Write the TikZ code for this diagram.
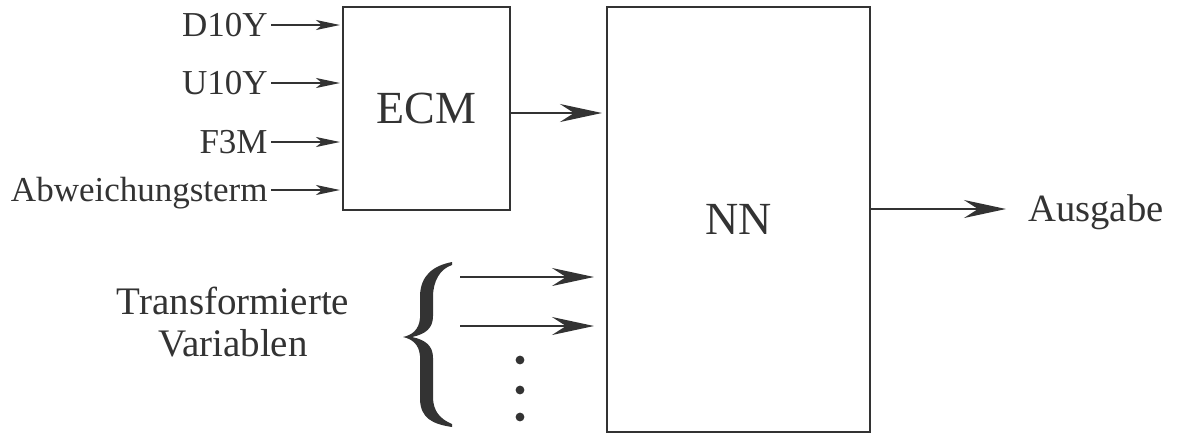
\documentclass[tikz,border=0pt]{standalone}
\usepackage{fontspec}
\setmainfont{Liberation Serif}
\usetikzlibrary{arrows.meta}
\definecolor{ink}{HTML}{333333}
\begin{document}
\begin{tikzpicture}[x=0.5pt,y=-0.5pt,
  box/.style={draw=ink, line width=1pt, inner sep=0pt, text=ink},
  lbl/.style={text=ink, font=\fontsize{17.5}{20}\selectfont, inner sep=1.5pt, text height=11.6pt, text depth=0pt},
  smallarrow/.style={draw=ink, line width=0.9pt, -{Stealth[length=12pt,width=5pt,inset=3pt]}},
  bigarrow/.style={draw=ink, line width=0.9pt, -{Stealth[length=21pt,width=9pt,inset=7pt]}},
  dotmark/.style={fill=ink, draw=none}]
\useasboundingbox (0,0) rectangle (1179,435);
% boxes
\node[box, minimum width=83.5pt, minimum height=101.5pt, font=\fontsize{23}{26}\selectfont] (ecm) at (426.5,108.5) {ECM};
\node[box, minimum width=131.5pt, minimum height=212.5pt, font=\fontsize{23}{26}\selectfont] (nn) at (738.5,219.5) {NN};
% input labels
\node[lbl, anchor=east] (d10y) at (271,25) {D10Y};
\node[lbl, anchor=east] (u10y) at (271,83) {U10Y};
\node[lbl, anchor=east] (f3m) at (271,142) {F3M};
\node[lbl, anchor=east] (abw) at (271,190) {Abweichungsterm};
\foreach \n in {d10y,u10y,f3m,abw}
  \draw[smallarrow, shorten >=1pt] (\n.east) -- (\n.east -| ecm.west);
% ECM -> NN
\coordinate (eo) at (510,113);
\draw[bigarrow, shorten >=2pt] (eo) -- (eo -| nn.west);
% output
\node[text=ink, font=\fontsize{19.3}{22}\selectfont, anchor=west, inner sep=1pt, text height=12.8pt, text depth=0pt] (aus) at (1026,209) {Ausgabe};
\draw[bigarrow, shorten >=10pt] (nn.east |- aus.west) -- (aus.west);
% transformed variables
\node[text=ink, font=\fontsize{19.5}{21}\selectfont, align=center, inner sep=0pt] (tv) at (233,322) {Transformierte\\Variablen};
\coordinate (t1) at (460,277);
\coordinate (t2) at (460,326);
\draw[bigarrow, shorten >=6pt] (t1) -- (t1 -| nn.west);
\draw[bigarrow, shorten >=6pt] (t2) -- (t2 -| nn.west);
% brace
\fill[ink] (452,262) .. controls (432,266) and (421,276) .. (420,295) -- (420,318)
  .. controls (419,330) and (412,335) .. (403,337)
  .. controls (412,339) and (419,344) .. (420,356) -- (420,400)
  .. controls (421,418) and (432,424) .. (452,427)
  -- (452,424) .. controls (440,419) and (433,411) .. (433,397) -- (433,358)
  .. controls (433,346) and (426,340) .. (412,337)
  .. controls (426,334) and (433,328) .. (433,316) -- (433,297)
  .. controls (433,281) and (440,269) .. (452,265) -- cycle;
% vertical dots
\foreach \yy in {360,390,417}
  \fill[dotmark] (520,\yy) circle (2.2pt);
\end{tikzpicture}
\end{document}
